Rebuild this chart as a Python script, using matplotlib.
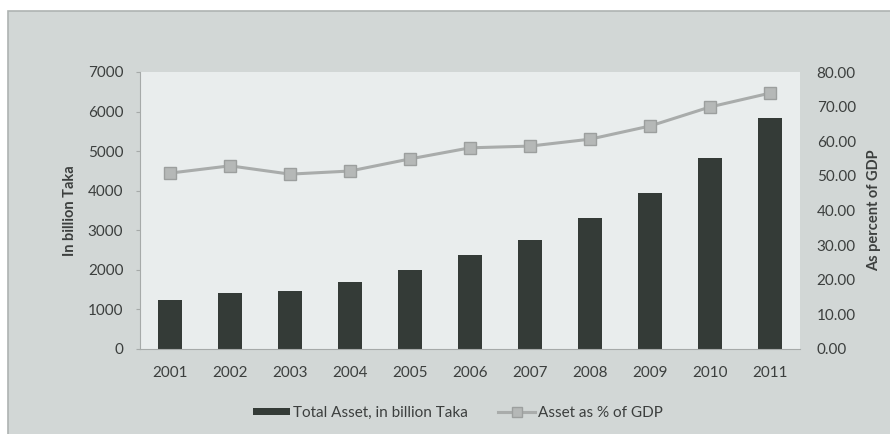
import matplotlib
matplotlib.use("Agg")
import matplotlib.pyplot as plt
from matplotlib.patches import Rectangle
from matplotlib.lines import Line2D
import numpy as np

years = ["2001", "2002", "2003", "2004", "2005", "2006", "2007", "2008", "2009", "2010", "2011"]
total_asset = [1240, 1415, 1466, 1693, 1996, 2375, 2755, 3311, 3942, 4827, 5838]
asset_pct_gdp = [50.8, 52.9, 50.5, 51.4, 54.9, 58.1, 58.6, 60.6, 64.4, 69.9, 73.9]
left_ticks = [0, 1000, 2000, 3000, 4000, 5000, 6000, 7000]
right_ticks = [0, 10, 20, 30, 40, 50, 60, 70, 80]

plt.rcParams['font.family'] = ['Lato', 'DejaVu Sans']

text_col = "#3c3f3e"
bar_col = "#343b37"
line_col = "#a9acab"
panel_col = "#d2d7d6"
plot_col = "#e9eded"
fs = 11

fig = plt.figure(figsize=(8.9, 4.34), dpi=100)
fig.patch.set_facecolor("white")

# outer grey panel behind everything
panel = Rectangle((8 / 890, -0.01), 1.01 - 8 / 890, (434 - 11) / 434 + 0.01,
                  transform=fig.transFigure, facecolor=panel_col,
                  edgecolor="#aeb3b2", linewidth=1.2, zorder=-10)
fig.add_artist(panel)

ax = fig.add_axes([140 / 890, (434 - 349) / 434, 660 / 890, (349 - 72) / 434])
ax.set_facecolor(plot_col)
x = np.arange(len(years))
ax.bar(x, total_asset, width=0.4, color=bar_col, zorder=2)
ax.set_xlim(-0.5, len(years) - 0.5)
ax.set_ylim(0, 7000)
ax.set_yticks(left_ticks)
ax.set_yticklabels([str(v) for v in left_ticks])
ax.set_xticks(x)
ax.set_xticklabels(years)
for s in ["top", "right"]:
    ax.spines[s].set_visible(False)
ax.spines["left"].set_color("#a6aaa9")
ax.spines["bottom"].set_color("#a6aaa9")
ax.tick_params(axis="y", colors="#a6aaa9", labelcolor=text_col, labelsize=fs,
               length=3, pad=9)
ax.tick_params(axis="x", length=0, labelcolor=text_col, labelsize=fs, pad=12)
ax.set_ylabel("In billion Taka", fontsize=10.5, fontweight="bold", color=text_col,
              labelpad=8)

ax2 = ax.twinx()
ax2.plot(x, asset_pct_gdp, color=line_col, linewidth=2.2, marker="s",
         markersize=8, markerfacecolor="#b5b8b7", markeredgecolor="#9c9f9e",
         markeredgewidth=1, zorder=3)
ax2.set_ylim(0, 80)
ax2.set_yticks(right_ticks)
ax2.set_yticklabels([f"{v:.2f}" for v in right_ticks])
for s in ["top", "right", "left", "bottom"]:
    ax2.spines[s].set_visible(False)
ax2.tick_params(axis="y", length=0, labelcolor=text_col, labelsize=fs, pad=12)
ax2.set_ylabel("As percent of GDP", fontsize=10.5, fontweight="bold", color=text_col,
               labelpad=8)

handles = [Rectangle((0, 0), 1, 1, facecolor=bar_col),
           Line2D([0], [0], color=line_col, linewidth=2.2, marker="s", markersize=7,
                  markerfacecolor="#b5b8b7", markeredgecolor="#9c9f9e")]
leg = fig.legend(handles, ["Total Asset, in billion Taka", "Asset as % of GDP"],
                 loc="center", bbox_to_anchor=(458 / 890, 1 - 413 / 434), ncol=2,
                 frameon=False, fontsize=fs, handlelength=2.4, handleheight=0.4,
                 handletextpad=0.2, columnspacing=2.0)
for t in leg.get_texts():
    t.set_color(text_col)

fig.savefig("out.png", dpi=100, facecolor=fig.get_facecolor())
